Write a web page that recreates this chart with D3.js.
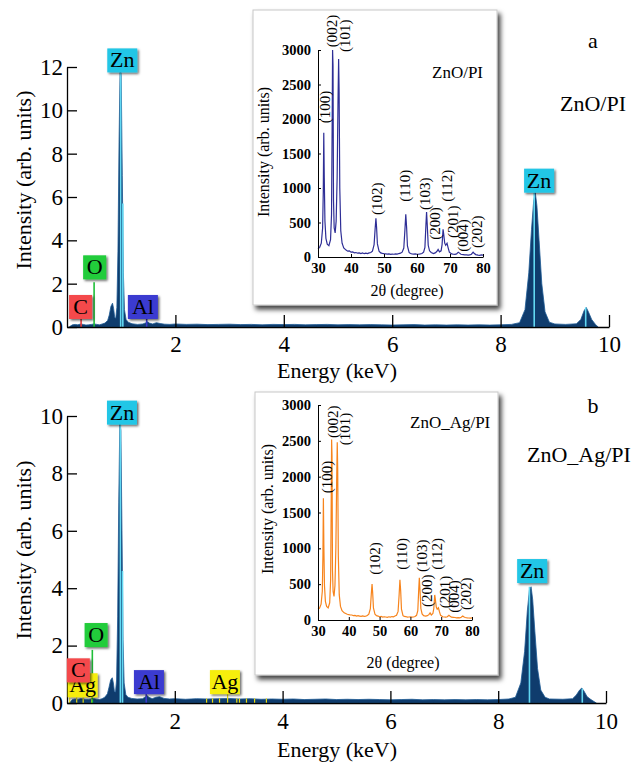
<!DOCTYPE html>
<html><head><meta charset="utf-8">
<script src="https://cdn.jsdelivr.net/npm/d3@7"></script>
<style>
body{margin:0;background:#fff}
svg{display:block}
text{font-family:"Liberation Serif","Times New Roman",serif;fill:#000}
</style>
</head><body>
<svg id="chart" width="635" height="765"></svg>
<script>
// ---------- EDS spectra (energy in keV, intensity in arb. units) ----------
const edsKeVA = [0.05,0.10,0.15,0.20,0.25,0.30,0.35,0.40,0.45,0.50,0.55,0.60,0.65,0.70,0.75,0.78,0.81,0.84,0.86,0.88,0.90,0.92,0.94,0.96,0.98,1.00,1.02,1.04,1.06,1.09,1.13,1.20,1.30,1.40,1.46,1.49,1.52,1.58,1.65,1.72,1.80,1.90,
  2.0,2.2,2.4,2.6,2.8,3.0,3.2,3.4,3.6,3.8,4.0,4.2,4.4,4.6,4.8,5.0,5.2,5.4,5.6,5.8,6.0,6.2,6.4,6.6,6.8,7.0,7.2,7.4,7.6,7.8,8.0,
  8.2,8.35,8.45,8.52,8.57,8.61,8.64,8.67,8.71,8.76,8.82,8.90,9.0,9.2,9.4,9.48,9.54,9.58,9.62,9.68,9.75,9.80];
const edsCountsA = [0.02,0.10,0.12,0.10,0.14,0.12,0.09,0.10,0.12,0.14,0.12,0.10,0.14,0.18,0.30,0.55,0.95,1.10,0.85,0.45,0.40,0.90,3.5,8.5,12.0,11.6,7.0,2.5,0.8,0.35,0.22,0.15,0.12,0.14,0.20,0.24,0.18,0.14,0.20,0.16,0.13,0.12,
  0.14,0.12,0.13,0.11,0.12,0.13,0.11,0.12,0.10,0.12,0.11,0.12,0.10,0.11,0.12,0.10,0.11,0.10,0.11,0.10,0.09,0.10,0.11,0.09,0.10,0.09,0.10,0.09,0.10,0.09,0.10,
  0.12,0.20,0.8,2.5,4.5,5.8,6.2,5.6,4.0,2.0,0.7,0.22,0.14,0.12,0.15,0.35,0.75,0.90,0.70,0.35,0.12,0.0];

const edsKeVB = [0.05,0.10,0.15,0.20,0.25,0.30,0.35,0.40,0.45,0.50,0.55,0.60,0.65,0.70,0.75,0.78,0.81,0.84,0.86,0.88,0.90,0.92,0.94,0.96,0.98,1.00,1.02,1.04,1.06,1.09,1.13,1.20,1.30,1.40,1.46,1.49,1.52,1.58,1.65,1.72,1.80,1.90,
  2.0,2.2,2.4,2.6,2.8,3.0,3.2,3.4,3.6,3.8,4.0,4.2,4.4,4.6,4.8,5.0,5.2,5.4,5.6,5.8,6.0,6.2,6.4,6.6,6.8,7.0,7.2,7.4,7.6,7.8,8.0,
  8.2,8.32,8.42,8.49,8.54,8.58,8.61,8.64,8.68,8.73,8.79,8.87,8.95,9.2,9.38,9.45,9.51,9.55,9.59,9.65,9.72,9.82];
const edsCountsB = [0.03,0.12,0.14,0.12,0.15,0.14,0.12,0.12,0.14,0.15,0.13,0.12,0.15,0.20,0.32,0.55,0.80,0.88,0.70,0.40,0.38,0.80,3.0,7.0,9.75,9.5,6.0,2.2,0.7,0.30,0.20,0.16,0.14,0.15,0.22,0.25,0.20,0.15,0.20,0.22,0.16,0.14,
  0.15,0.13,0.15,0.14,0.15,0.16,0.14,0.15,0.13,0.14,0.13,0.14,0.12,0.13,0.14,0.12,0.13,0.12,0.13,0.12,0.11,0.12,0.13,0.11,0.12,0.11,0.12,0.11,0.12,0.11,0.12,
  0.14,0.20,0.7,1.8,3.2,3.95,4.05,3.6,2.5,1.2,0.45,0.20,0.14,0.13,0.15,0.28,0.45,0.52,0.42,0.22,0.12,0.0];

// element labels: name, label position (keV), peak top under the label
const labelElemA = ["C","O","Zn","Al","Zn"];
const labelKeVA  = [0.25,0.51,1.02,1.40,8.71];
const labelTopA  = [0.37,2.2,11.75,0.37,6.2];
const labelElemB = ["Ag","C","O","Zn","Al","Ag","Zn"];
const labelKeVB  = [0.29,0.21,0.54,1.02,1.52,2.93,8.63];
const labelTopB  = [0.2,0.72,1.95,9.7,0.31,0.31,4.18];

// characteristic line markers: element, energy (keV), marker height
const lineElemA = ["C","O","Zn","Zn","Al","Zn","Zn"];
const lineKeVA  = [0.26,0.50,0.99,1.03,1.47,8.62,9.57];
const lineTopA  = [0.37,2.07,11.75,5.7,0.37,6.2,0.9];
const lineElemB = ["Ag","Ag","Ag","Ag","O","Zn","Zn","Al","Ag","Ag","Ag","Ag","Ag","Ag","Ag","Ag","Ag","Zn","Zn"];
const lineKeVB  = [0.05,0.18,0.30,0.46,0.47,0.99,1.03,1.47,2.59,2.70,2.83,2.98,3.15,3.20,3.33,3.48,3.70,8.58,9.56];
const lineTopB  = [0.2,0.2,0.2,0.2,1.85,9.7,4.6,0.31,0.16,0.16,0.16,0.31,0.16,0.16,0.16,0.16,0.16,4.05,0.5];

const elemFill = {Zn:"#22c6e6", O:"#20cc3a", C:"#f44a4c", Al:"#3a3ad0", Ag:"#f6ee10"};
const elemLine = {Zn:"#62d8f2", O:"#1fbf38", C:"#e83a3c", Al:"#3a3ad0", Ag:"#e8dc10"};

const energyTicks = [2,4,6,8,10];
const intensityTicksA = [0,2,4,6,8,10,12];
const intensityTicksB = [0,2,4,6,8,10];

// ---------- XRD patterns (2θ in degrees, intensity in arb. units) ----------
const twoTheta = [30.0,30.5,31.0,31.4,31.6,31.75,31.9,32.1,32.4,32.8,33.3,33.8,34.1,34.3,34.42,34.55,34.7,34.9,35.2,35.5,35.8,36.05,36.25,36.4,36.6,36.9,37.3,37.8,
  38.5,39.0,39.5,40.0,40.5,41.0,41.5,42.0,42.5,43.0,43.5,44.0,44.5,45.0,45.5,46.0,46.5,47.0,47.3,47.55,47.75,48.0,48.5,49.0,49.5,50.0,50.5,51.0,51.5,52.0,52.5,53.0,53.5,54.0,54.5,55.0,55.5,
  56.0,56.35,56.6,56.85,57.1,57.6,58.0,58.5,59.0,59.5,60.0,60.5,61.0,61.5,62.0,62.4,62.7,62.9,63.1,63.4,63.8,64.3,65.0,65.5,66.0,66.4,66.8,67.3,67.6,67.9,68.1,68.4,68.7,69.1,69.4,69.8,
  70.5,71.0,71.5,72.0,72.5,72.8,73.3,74.0,74.5,75.0,75.5,76.0,76.5,77.0,77.3,77.8,78.5,79.0,79.5,80.0];
const xrdZnO = [120,140,200,420,950,1800,1150,520,270,185,165,250,620,2000,3000,2780,820,420,350,520,1150,2200,2870,2400,1000,380,200,130,
  100,85,90,70,75,60,65,55,60,50,58,48,55,50,60,65,85,180,400,560,430,190,85,60,52,48,45,42,45,38,42,40,45,42,50,55,70,
  130,400,620,430,160,65,50,45,42,45,40,42,45,50,70,140,460,650,470,170,90,65,50,60,80,110,75,90,180,400,330,200,170,200,140,70,
  45,40,38,45,70,60,40,35,30,32,28,30,40,70,55,35,28,25,30,28];
const xrdZnOAg = [150,165,220,400,900,1700,1050,480,260,190,170,240,560,1700,2520,2300,700,400,330,480,1000,1900,2480,2100,900,350,190,130,
  100,90,80,75,70,70,60,65,55,60,55,50,58,52,55,62,80,160,360,500,380,170,80,60,55,45,50,40,45,42,38,45,40,48,45,55,65,
  120,360,560,400,150,60,50,48,40,42,45,40,42,48,65,130,420,590,430,160,85,60,55,60,75,100,70,90,160,350,290,180,150,170,120,65,
  45,42,40,45,65,55,40,38,35,30,32,30,38,55,45,35,30,28,25,30];

const hkl = ["(100)","(002)","(101)","(102)","(110)","(103)","(200)","(112)","(201)","(004)","(202)"];
const hklThetaA = [32.1,34.2,38.2,47.9,56.4,62.4,65.5,69.1,70.9,73.9,78.2];
const hklLevelA = [1940,3040,2970,610,800,680,250,800,275,75,130];
const hklThetaB = [32.9,34.9,38.8,48.5,57.3,63.8,65.4,68.6,71.2,74.2,78.1];
const hklLevelB = [1770,2540,2440,630,700,670,180,700,165,100,140];
const xrdTicksX = [30,40,50,60,70,80];
const xrdTicksY = [0,500,1000,1500,2000,2500,3000];

// ---------- drawing ----------
const svg = d3.select("#chart");
const defs = svg.append("defs");
defs.append("filter").attr("id","boxShadow").attr("x","-10%").attr("y","-10%").attr("width","125%").attr("height","125%")
  .append("feDropShadow").attr("dx",3).attr("dy",4).attr("stdDeviation",2.5)
  .attr("flood-color","#000").attr("flood-opacity",0.75);
defs.append("filter").attr("id","tagShadow").attr("x","-20%").attr("y","-20%").attr("width","150%").attr("height","150%")
  .append("feDropShadow").attr("dx",1.5).attr("dy",1.5).attr("stdDeviation",0.8)
  .attr("flood-color","#000").attr("flood-opacity",0.6);

function edsPanel(p) {
  const g = svg.append("g");
  const x = d3.scaleLinear().domain([0,10]).range(p.xr);
  const y = d3.scaleLinear().domain([0,p.ymax]).range(p.yr);

  // spectrum
  const pts = p.keV.map((e,i)=>[e,p.counts[i]]);
  g.append("path").datum(pts)
    .attr("d", d3.area().x(d=>x(d[0])).y0(y(0)).y1(d=>y(d[1])))
    .attr("fill","#0f3c6d").attr("stroke","#1d5b94").attr("stroke-width",0.8);

  // characteristic line markers
  g.selectAll(".mk").data(p.lineKeV).join("line")
    .attr("x1",d=>x(d)).attr("x2",d=>x(d))
    .attr("y1",y(0)).attr("y2",(d,i)=>y(p.lineTop[i]))
    .attr("stroke",(d,i)=>elemLine[p.lineElem[i]])
    .attr("stroke-width",(d,i)=>p.lineElem[i]==="Ag"?1.2:1.6);

  // axes
  const ax = g.append("g").attr("transform",`translate(0,${y(0)})`)
    .call(d3.axisBottom(x).tickValues(energyTicks).tickSizeInner(-12).tickSizeOuter(0).tickPadding(p.xpad).tickFormat(d3.format("d")));
  const ay = g.append("g").attr("transform",`translate(${x(0)},0)`)
    .call(d3.axisLeft(y).tickValues(p.yticks).tickSizeInner(-10).tickSizeOuter(0).tickPadding(4).tickFormat(d3.format("d")));
  [ax,ay].forEach(a=>{
    a.selectAll("path,line").attr("stroke","#000").attr("stroke-width",1.3);
    a.selectAll("text").style("font-family","'Liberation Serif',serif").style("font-size","23px").attr("fill","#000");
  });

  // element tags (later tags sit on top of earlier ones)
  p.labelElem.forEach((el,i)=>{
    const w = el.length===1 ? 23 : 30, h = 24;
    const cx = x(p.labelKeV[i]), bottom = y(p.labelTop[i]);
    const t = g.append("g");
    t.append("rect").attr("x",cx-w/2).attr("y",bottom-h).attr("width",w).attr("height",h)
      .attr("fill",elemFill[el]).attr("filter","url(#tagShadow)");
    t.append("text").attr("x",cx).attr("y",bottom-5).attr("text-anchor","middle")
      .style("font-size","22px").text(el);
  });

  // titles
  g.append("text").attr("x",337).attr("y",p.xlabelY).attr("text-anchor","middle").style("font-size","22px").text("Energy (keV)");
  g.append("text").attr("transform",`translate(23,${p.ylabelC}) rotate(-90)`).attr("text-anchor","middle")
    .attr("dominant-baseline","central").style("font-size","22px").text("Intensity (arb. units)");
  g.append("text").attr("x",593).attr("y",p.letterY).attr("text-anchor","middle").style("font-size","22px").text(p.letter);
  g.append("text").attr("x",p.nameX).attr("y",p.nameY).style("font-size","22px").text(p.name);
}

function xrdInset(p) {
  const g = svg.append("g");
  g.append("rect").attr("x",p.box[0]).attr("y",p.box[1]).attr("width",p.box[2]-p.box[0]).attr("height",p.box[3]-p.box[1])
    .attr("fill","#fff").attr("stroke","#c8c8c8").attr("stroke-width",1).attr("filter","url(#boxShadow)");
  const x = d3.scaleLinear().domain([30,80]).range(p.xr);
  const y = d3.scaleLinear().domain([0,3000]).range(p.yr);

  g.append("path").datum(twoTheta.map((t,i)=>[t,p.values[i]]))
    .attr("d", d3.line().x(d=>x(d[0])).y(d=>y(d[1])))
    .attr("fill","none").attr("stroke",p.color).attr("stroke-width",1.2);

  const ax = g.append("g").attr("transform",`translate(0,${p.yr[0]})`)
    .call(d3.axisBottom(x).tickValues(xrdTicksX).tickSizeInner(-3).tickSizeOuter(0).tickPadding(6).tickFormat(d3.format("d")));
  const ay = g.append("g").attr("transform",`translate(${p.xr[0]},0)`)
    .call(d3.axisLeft(y).tickValues(xrdTicksY).tickSizeInner(-3).tickSizeOuter(0).tickPadding(7).tickFormat(d3.format("d")));
  [ax,ay].forEach(a=>{
    a.selectAll("path,line").attr("stroke","#000").attr("stroke-width",1);
    a.selectAll("text").style("font-family","'Liberation Serif',serif").style("font-size","14.5px")
      .style("font-weight","bold").attr("fill","#000");
  });

  hkl.forEach((h,i)=>{
    g.append("text").attr("transform",`translate(${x(p.hklTheta[i])},${y(p.hklLevel[i])}) rotate(-90)`)
      .attr("dominant-baseline","central").style("font-size","15px").text(h);
  });

  g.append("text").attr("x",p.title[0]).attr("y",p.title[1]).style("font-size","17px").text(p.name);
  g.append("text").attr("x",p.xlab[0]).attr("y",p.xlab[1]).attr("text-anchor","middle").style("font-size","16px").text("2θ (degree)");
  g.append("text").attr("transform",`translate(${p.ylab[0]},${p.ylab[1]}) rotate(-90)`).attr("text-anchor","middle")
    .attr("dominant-baseline","central").style("font-size","16px").text("Intensity (arb. units)");
}

edsPanel({keV:edsKeVA, counts:edsCountsA, ymax:12, xr:[67,609], yr:[327,67], yticks:intensityTicksA, xpad:9,
  lineElem:lineElemA, lineKeV:lineKeVA, lineTop:lineTopA, labelElem:labelElemA, labelKeV:labelKeVA, labelTop:labelTopA,
  xlabelY:378, ylabelC:180, letter:"a", letterY:48, name:"ZnO/PI", nameX:560, nameY:111});
edsPanel({keV:edsKeVB, counts:edsCountsB, ymax:10, xr:[67,606], yr:[703,416], yticks:intensityTicksB, xpad:10,
  lineElem:lineElemB, lineKeV:lineKeVB, lineTop:lineTopB, labelElem:labelElemB, labelKeV:labelKeVB, labelTop:labelTopB,
  xlabelY:757, ylabelC:550, letter:"b", letterY:413, name:"ZnO_Ag/PI", nameX:527, nameY:462});

xrdInset({box:[253,10,497,305], xr:[318,483], yr:[257,50], values:xrdZnO, color:"#2e2e96",
  hklTheta:hklThetaA, hklLevel:hklLevelA, name:"ZnO/PI", title:[432,78], xlab:[407,296], ylab:[263,152]});
xrdInset({box:[255,392,498,675], xr:[318,472], yr:[620,405], values:xrdZnOAg, color:"#f7841c",
  hklTheta:hklThetaB, hklLevel:hklLevelB, name:"ZnO_Ag/PI", title:[410,428], xlab:[403,668], ylab:[267,509]});
</script>
</body></html>
